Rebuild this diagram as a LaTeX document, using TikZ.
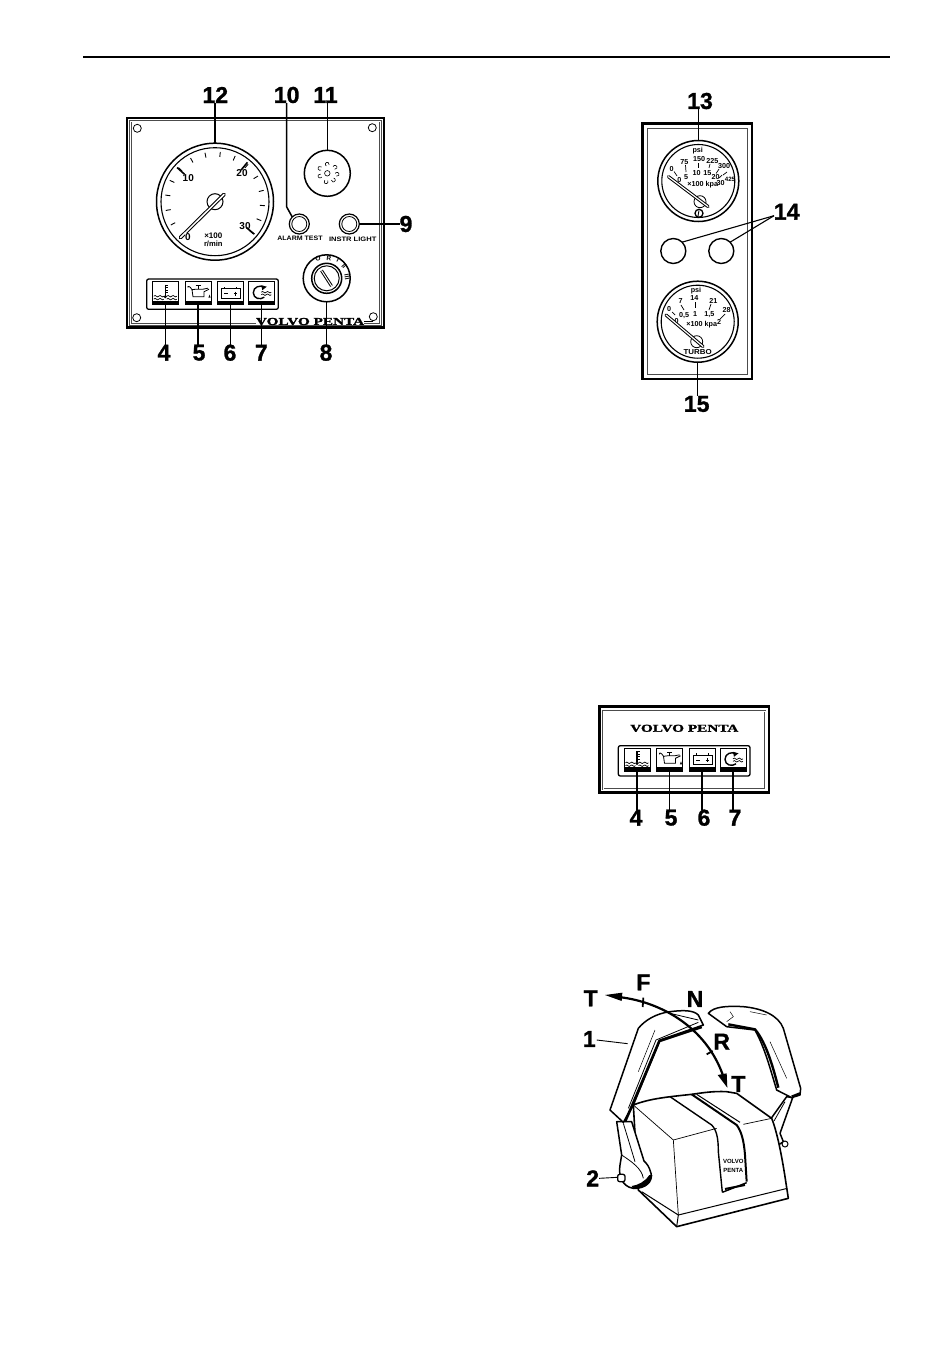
\documentclass[tikz,border=0pt]{standalone}
\usepackage{fontspec}
\setmainfont{Liberation Sans}
\newfontfamily\heavyfont[FakeBold=1.2]{Liberation Sans Bold}
\newfontfamily\volvofont[FakeBold=1.5]{Liberation Serif Bold}
\tikzset{
  x=1pt,y=-1pt,
  every node/.style={inner sep=0pt,outer sep=0pt},
  bignum/.style={font=\fontsize{23}{23}\heavyfont},
  leader/.style={line width=1.5pt,line cap=butt},
  thinlead/.style={line width=1.1pt},
  panelout/.style={draw,line width=2.6pt},
  panelin/.style={draw=black!70,line width=0.6pt,double distance=0.9pt},
  dial/.style={circle,draw,line width=1.5pt,fill=white},
  dialin/.style={circle,draw,line width=1.1pt},
  gnum/.style={font=\fontsize{7.2}{8}\selectfont\bfseries},
  tnum/.style={font=\fontsize{10}{10}\selectfont\bfseries},
  tag/.style={font=\fontsize{6.4}{7}\selectfont\bfseries},
  keytag/.style={font=\fontsize{6.5}{7}\selectfont\bfseries},
  iconbox/.style={draw,line width=1pt,fill=white,minimum width=26pt,minimum height=23pt},
  brand/.style={font=\fontsize{10.5}{11}\volvofont},
  lever/.style={line width=1.5pt,line join=round,fill=white},
}
\newcommand{\wavy}[2]{%
  \draw[line width=.7pt] (#1,#2) .. controls (#1+2,#2-2.6) and (#1+3,#2+2.6) .. (#1+5,#2)
     .. controls (#1+7,#2-2.6) and (#1+8,#2+2.6) .. (#1+10,#2);}
\newcommand{\bandicon}[3]{%
  \node[iconbox] (#1) at (#2+13,#3+11.7) {};
  \fill (#2,#3+19) rectangle (#2+26,#3+23.4);}
\newcommand{\tempicon}[3]{\bandicon{#1}{#2}{#3}
  \begin{scope}[shift={(#2,#3)}]
    \draw[line width=1.3pt] (13,3) -- (13,14);
    \foreach \yy in {3.5,6,8.5,11}{\draw[line width=.7pt] (13,\yy) -- (16,\yy);}
    \wavy{1.5}{14.5}\wavy{14.5}{14.5}\wavy{1.5}{17.4}\wavy{14.5}{17.4}
    \fill (13,15) circle[radius=1.7];
  \end{scope}}
\newcommand{\oilicon}[3]{\bandicon{#1}{#2}{#3}
  \begin{scope}[shift={(#2,#3)}]
    \draw[line width=.8pt] (3,6) .. controls (2,4) and (5,4) .. (7,8) -- (11,7.5) -- (18,7.5) -- (23,6.5)
      (7,8) -- (8,15) -- (19,15) -- (19,10) -- (24,7.5);
    \draw[line width=.8pt] (13,4) -- (13,7.5) (10.5,4) -- (15.5,4);
    \fill (24.5,13) -- (23.4,16) -- (25.6,16) -- cycle;
  \end{scope}}
\newcommand{\baticon}[3]{\bandicon{#1}{#2}{#3}
  \begin{scope}[shift={(#2,#3)}]
    \draw[line width=.8pt] (4,7) rectangle (23,16.5);
    \draw[line width=1pt] (7,7) -- (7,5) (19,7) -- (19,5);
    \draw[line width=.8pt] (7,12) -- (10.5,12) (16.5,12) -- (20,12) (18.25,10) -- (18.25,14);
  \end{scope}}
\newcommand{\coolicon}[3]{\bandicon{#1}{#2}{#3}
  \begin{scope}[shift={(#2,#3)}]
    \draw[line width=1.4pt] (16,5.5) .. controls (12,3) and (5,5) .. (5,11) .. controls (5,17) and (12,18.5) .. (16,15.5);
    \fill (13,3.5) -- (18.5,5) -- (14,8.5) -- cycle;
    \wavy{13}{10.5}
    \wavy{13}{13}
  \end{scope}}
\begin{document}
\begin{tikzpicture}
\useasboundingbox (0,0) rectangle (950,1354);
\fill[white] (0,0) rectangle (950,1354);
% header rule
\coordinate (hl) at (83,57); \coordinate (hr) at (890,57);
\draw[line width=1.8pt] (hl) -- (hr);

%% ===== panel 1 =====
\draw[panelout] (127,118) rectangle (384,327.5);
\draw[panelin] (130.5,121) rectangle (380.5,324.5);
\foreach \sx/\sy in {137.3/128.3,372.3/127.7,136.7/317.7,373.3/316.7}{\draw[line width=.8pt,fill=white] (\sx,\sy) circle[radius=4];}
% tachometer
\node[dial,minimum size=117pt] (g12) at (215,201.7) {};
\node[dialin,minimum size=108pt] (g12i) at (215,201.7) {};
\begin{scope}[shift={(215,201.7)}]
  \foreach \a in {0,...,15}{
    \pgfmathsetmacro\ang{-(225.5-\a*17.7)}
    \draw[line width=.9pt] (\ang:45) -- (\ang:50);}
  \foreach \a in {138,50.5,-39.5}{\draw[line width=1.6pt] (-\a:41) -- (-\a:51);}
\end{scope}
\node[circle,draw,line width=1pt,minimum size=16pt] (hub12) at (215,201.7) {};
\draw[line width=3.6pt,line cap=round] (180.5,237.5) -- (224,194.5);
\draw[white,line width=1.5pt,line cap=round] (180.5,237.5) -- (224,194.5);
\node[tnum,fill=white,inner sep=.5pt] (t0) at (188,237.5) {0};
\node[tnum] (t10) at (188.3,178.3) {10};
\node[tnum] (t20) at (242,172.7) {20};
\node[tnum] (t30) at (245,226) {30};
\node[font=\fontsize{8}{8}\selectfont\bfseries] (tx) at (213.3,235.7) {×100};
\node[font=\fontsize{7.6}{8}\selectfont\bfseries] (tr) at (213.3,244.3) {r/min};
% horn
\node[circle,draw,line width=1.5pt,minimum size=46pt] (g11) at (327.3,173.3) {};
\node[circle,draw,line width=.6pt,minimum size=5.5pt] (h0) at (327.3,173.3) {};
\foreach \dx/\dy/\sa in {320/168.3/60,327.3/164.3/120,335/167.3/200,320/176/30,337/174.3/210,326/181.7/-30,333.3/180/-80}{\draw[line width=.6pt] (\dx,\dy) ++(\sa:2) arc[start angle=\sa,delta angle=260,radius=2];}
% lamps
\node[circle,draw,line width=1.2pt,minimum size=20pt,fill=white] (g10) at (299.3,224) {};
\node[circle,draw,line width=.8pt,minimum size=15pt] (g10i) at (299.3,224) {};
\node[circle,draw,line width=1.2pt,minimum size=20pt,fill=white] (g9) at (349.3,224) {};
\node[circle,draw,line width=.8pt,minimum size=15pt] (g9i) at (349.3,224) {};
\node[tag,xscale=1.1] (alarm) at (300,238.7) {ALARM TEST};
\node[tag,xscale=1.18] (instr) at (352.7,239.3) {INSTR LIGHT};
% key switch
\node[circle,draw,line width=1.5pt,minimum size=47pt] (g8) at (326.7,278.3) {};
\node[circle,draw,line width=1.5pt,minimum size=30pt] (g8a) at (326.7,278.3) {};
\node[circle,draw,line width=1pt,minimum size=25pt] (g8b) at (326.7,278.3) {};
\draw[line width=3pt] (321.5,270.5) -- (331.5,286);
\draw[white,line width=1pt] (321.5,270.5) -- (331.5,286);
\node[keytag,rotate=15] (ko) at (318,259) {O};
\node[keytag,rotate=-5] (kr) at (329,258) {R};
\node[keytag,rotate=-30] (ki) at (338,260) {I};
\node[keytag,rotate=-50] (kii) at (344,266) {II};
\node[keytag,rotate=-80] (kiii) at (347,277) {III};
% warning strip
\draw[line width=1.3pt,rounded corners=2pt] (146.7,279) rectangle (278.3,309.3);
\tempicon{a4}{152.3}{281.7}
\oilicon{a5}{185}{281.7}
\baticon{a6}{217.3}{281.7}
\coolicon{a7}{248.3}{281.7}
\node[brand,xscale=1.45,fill=white] (vp1) at (310,321.5) {VOLVO PENTA};
\coordinate (vp1e) at (vp1.east); \coordinate (vp1f) at (373,321.5);
\draw[line width=.8pt] (vp1e) -- (vp1f);
% labels
\node[bignum] (n12) at (215.3,95) {12};
\node[bignum] (n10) at (286.7,95) {10};
\node[bignum] (n11) at (325.5,95) {11};
\node[bignum] (n9) at (406,224) {9};
\node[bignum] (n4) at (164,352.7) {4};
\node[bignum] (n5) at (199,352.7) {5};
\node[bignum] (n6) at (230,352.7) {6};
\node[bignum] (n7) at (261.3,352.7) {7};
\node[bignum] (n8) at (326,352.7) {8};
\coordinate (k10) at (286.7,207);
\draw[leader] (n12.south -| g12.north) -- (g12.north);
\draw[leader,line join=round] (n10.south) -- (k10) -- (g10.135);
\draw[leader] (n11.south -| g11.north) -- (g11.north);
\draw[leader] (g9.east) -- (n9.west);
\draw[leader] (a4.south) -- (a4.south |- n4.north);
\draw[leader] (a5.south) -- (a5.south |- n5.north);
\draw[leader] (a6.south) -- (a6.south |- n6.north);
\draw[leader] (a7.south) -- (a7.south |- n7.north);
\draw[leader] (g8.south) -- (g8.south |- n8.north);

%% ===== panel 2 =====
\draw[panelout] (642.3,123.3) rectangle (752,379);
\draw[panelin] (646.7,127.7) rectangle (748,375);
\node[dial,minimum size=81pt] (g13) at (698.3,181) {};
\node[dialin,minimum size=73pt] (g13i) at (698.3,181) {};
\node[gnum] (p1) at (697.7,150.7) {psi};
\node[gnum] (p2) at (684.3,161.7) {75};
\node[gnum] (p3) at (699,159) {150};
\node[gnum] (p4) at (712.3,160.7) {225};
\node[gnum] (p5) at (724,165.7) {300};
\node[gnum] (p6) at (671.7,169) {0};
\node[gnum] (p7) at (686,176.7) {5};
\node[gnum] (p8) at (696.7,173.3) {10};
\node[gnum] (p9) at (707.3,173.3) {15};
\node[gnum] (p10) at (715.7,177.3) {20};
\node[gnum] (p11) at (720.7,183.3) {30};
\node[font=\fontsize{6.2}{7}\selectfont\bfseries] (p12) at (730,179.3) {425};
\node[gnum] (p13) at (679.3,180) {0};
\node[font=\fontsize{7.2}{8}\selectfont\bfseries] (p14) at (702.7,184.3) {×100 kpa};
\foreach \xa/\ya/\xb/\yb in {674/171.5/677/176,685.5/165/686/172,698/163/698/168,710/164/709/168,719/169/716/173.5,727/172/723/175,722/175/719/178}{\draw[line width=.7pt] (\xa,\ya) -- (\xb,\yb);}
\node[circle,draw,line width=.8pt,minimum size=12pt] (hub13) at (700,201.7) {};
\draw[line width=3.2pt,line cap=round] (668.5,176.7) -- (708,206.5);
\draw[white,line width=1.2pt,line cap=round] (668.5,176.7) -- (708,206.5);
\node[circle,draw,line width=1.3pt,minimum size=8pt] (ic13) at (699,213.3) {};
\draw[line width=.9pt] (699,210.5) -- (698,216);
\node[circle,draw,line width=1.4pt,minimum size=25pt] (g14a) at (673.3,251) {};
\node[circle,draw,line width=1.4pt,minimum size=25pt] (g14b) at (721.3,251) {};
\node[dial,minimum size=81pt] (g15) at (697.7,321.7) {};
\node[dialin,minimum size=73pt] (g15i) at (697.7,321.7) {};
\node[gnum] (q1) at (696,290.7) {psi};
\node[gnum] (q2) at (694.3,298) {14};
\node[gnum] (q3) at (680.7,301.3) {7};
\node[gnum] (q4) at (713.3,300.7) {21};
\node[gnum] (q5) at (726.7,310) {28};
\node[gnum] (q6) at (669,308.7) {0};
\node[gnum] (q7) at (684,315.7) {0,5};
\node[gnum] (q8) at (695,313.7) {1};
\node[gnum] (q9) at (709.3,314.7) {1,5};
\node[gnum] (q10) at (719,322) {2};
\node[gnum] (q11) at (676.7,320.7) {0};
\node[font=\fontsize{7.2}{8}\selectfont\bfseries] (q12) at (701.7,324.7) {×100 kpa};
\foreach \xa/\ya/\xb/\yb in {681/305/684/310,695/302/695/308,711/304/709/310,725/314/720/319,672/312/675/315}{\draw[line width=.7pt] (\xa,\ya) -- (\xb,\yb);}
\node[circle,draw,line width=.8pt,minimum size=12pt] (hub15) at (696.7,341.7) {};
\draw[line width=3.2pt,line cap=round] (666,315) -- (703,346.5);
\draw[white,line width=1.2pt,line cap=round] (666,315) -- (703,346.5);
\node[font=\fontsize{7.2}{8}\selectfont\bfseries,xscale=1.1] (turbo) at (697.7,352.3) {TURBO};
\node[bignum] (n13) at (700,101) {13};
\node[bignum] (n14) at (786.7,211.7) {14};
\node[bignum] (n15) at (696.7,404) {15};
\coordinate (j14) at (774,215.7);
\draw[leader] (n13.south -| g13.north) -- (g13.north);
\draw[leader] (g15.south) -- (g15.south |- n15.north);
\draw[thinlead] (j14) -- (g14a.45);
\draw[thinlead] (j14) -- (g14b.45);

%% ===== panel 3 =====
\draw[panelout] (599.3,706.7) rectangle (769,792.7);
\draw[panelin] (603.3,711) rectangle (765,789);
\node[brand,xscale=1.45] (vp2) at (684.3,728.3) {VOLVO PENTA};
\draw[line width=1.3pt,rounded corners=2pt] (618.3,745.7) rectangle (750,776);
\tempicon{b4}{624}{748.3}
\oilicon{b5}{656.5}{748.3}
\baticon{b6}{689}{748.3}
\coolicon{b7}{720}{748.3}
\node[bignum] (m4) at (636,817.7) {4};
\node[bignum] (m5) at (671,817.7) {5};
\node[bignum] (m6) at (704,817.7) {6};
\node[bignum] (m7) at (735,817.7) {7};
\draw[leader] (b4.south) -- (b4.south |- m4.north);
\draw[leader] (b5.south) -- (b5.south |- m5.north);
\draw[leader] (b6.south) -- (b6.south |- m6.north);
\draw[leader] (b7.south) -- (b7.south |- m7.north);

%% ===== throttle control (zoom coordinates, 3x) =====
\begin{scope}[shift={(570,965)},scale=1/3]
  % right lever arm behind body
  \draw[lever] (650,395) -- (600,465) -- (625,540) -- (640,530) -- (630,505) -- (668,398) -- cycle;
  \draw[line width=.8pt] (645,410) -- (612,468);
  \draw[line width=1pt,fill=white] (645,537) circle[radius=9];
  % body
  \draw[line width=1.6pt,line join=round,fill=white] (190,420) .. controls (240,400) and (300,395) .. (365,388)
     .. controls (400,383) and (430,378) .. (470,380) -- (500,385) -- (605,460)
     .. controls (625,510) and (640,600) .. (650,668) -- (655,700) -- (320,785) -- (205,675) -- cycle;
  \draw[line width=1pt] (325,750) -- (652,670);
  \draw[line width=1pt] (325,750) -- (320,785);
  \draw[line width=1pt] (215,680) -- (325,750);
  \draw[line width=.7pt] (190,420) -- (310,525) -- (325,750);
  \draw[line width=.7pt] (310,525) -- (440,490);
  \draw[line width=.7pt] (520,478) -- (605,460);
  \draw[line width=1.4pt] (300,395) -- (425,480) .. controls (440,495) and (445,520) .. (445,560) -- (457,682);
  \draw[line width=2pt] (365,388) -- (500,480) .. controls (515,500) and (522,530) .. (525,570) -- (530,650);
  \draw[line width=1pt] (380,388) -- (510,472);
  \draw[line width=1.4pt] (457,682) -- (530,653);
  \draw[line width=2pt] (465,672) -- (525,660);
  \node[font=\fontsize{6}{6}\selectfont\bfseries] (s1) at (490,589) {VOLVO};
  \node[font=\fontsize{6}{6}\selectfont\bfseries] (s2) at (490,617) {PENTA};
  % left lever arm and boss
  \draw[lever] (140,470) -- (155,570) -- (150,600) .. controls (145,630) and (155,665) .. (190,670)
     .. controls (225,672) and (250,650) .. (243,625) .. controls (238,605) and (230,595) .. (222,588) -- (185,470) -- cycle;
  \draw[line width=.8pt] (160,475) -- (195,590);
  \draw[line width=.8pt] (155,570) .. controls (185,590) and (215,610) .. (220,640);
  \fill (190,672) .. controls (215,672) and (240,660) .. (247,630) -- (238,630) .. controls (225,650) and (205,660) .. (185,663) -- cycle;
  \coordinate (shaftend) at (142,637);
  \draw[line width=1.3pt,fill=white,rounded corners=2pt] (143,628) -- (165,628) -- (165,650) -- (143,650) -- cycle;
  % left lever
  \draw[lever] (400,180) -- (385,150) .. controls (370,135) and (340,135) .. (300,140) .. controls (260,145) and (225,165) .. (205,190)
     -- (120,435) -- (160,472) -- (190,420) -- (270,225) -- cycle;
  \draw[line width=2.6pt,line join=round] (165,470) -- (185,425) -- (268,228) -- (395,186);
  \draw[line width=.8pt] (175,430) -- (258,225) -- (385,172);
  \draw[line width=.8pt] (300,145) -- (385,165);
  \draw[line width=.5pt] (205,320) -- (255,195);
  % right lever
  \draw[lever] (415,145) .. controls (430,125) and (470,122) .. (520,125) .. controls (575,130) and (625,150) .. (640,190)
     -- (692,370) -- (690,390) -- (665,398) -- (620,375) .. controls (600,310) and (585,250) .. (555,195) -- (470,185) -- cycle;
  \draw[line width=2.4pt,line join=round] (475,178) -- (555,193) .. controls (590,235) and (610,310) .. (625,368);
  \draw[line width=2.4pt] (665,395) -- (690,385);
  \draw[line width=.5pt] (600,230) -- (650,340);
  \draw[line width=.5pt] (480,140) -- (490,155) -- (470,170);
  \draw[line width=.5pt] (540,140) -- (590,150);
  % range arc
  \coordinate (arcA) at (105,90);
  \coordinate (arcB) at (472,368);
  \draw[line width=2.2pt] (135,95) .. controls (260,105) and (410,180) .. (462,340);
  \fill (arcA) -- (157,83) -- (155,108) -- cycle;
  \fill (arcB) -- (443,330) -- (470,325) -- cycle;
  \draw[line width=1.8pt] (220,98) -- (218,126);
  \draw[line width=1.8pt] (410,268) -- (428,258);
  % labels
  \node[bignum] (tl) at (62,100) {T};
  \node[bignum] (fl) at (220,52) {F};
  \node[bignum] (nl) at (375,102) {N};
  \node[bignum] (rl) at (455,230) {R};
  \node[bignum] (tr2) at (505,357) {T};
  \node[bignum] (c1) at (58,222) {1};
  \node[bignum] (c2) at (68,640) {2};
  \coordinate (lev1) at (173,236);
  \draw[line width=.9pt] (c1.east) ++(3,3) -- (lev1);
  \draw[line width=.9pt] (c2.east) -- (shaftend);
\end{scope}
\end{tikzpicture}
\end{document}
